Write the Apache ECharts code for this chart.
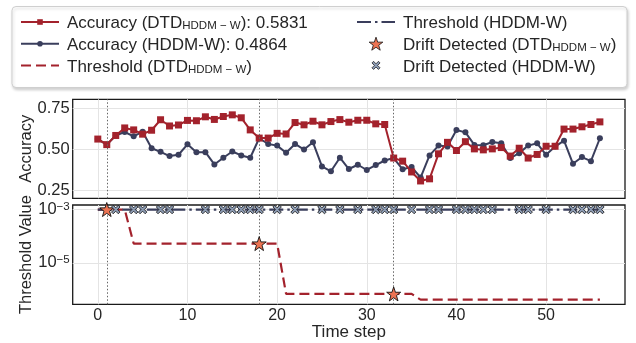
<!DOCTYPE html>
<html><head><meta charset="utf-8">
<script src="https://cdn.jsdelivr.net/npm/echarts@6/dist/echarts.min.js"></script>
<style>html,body{margin:0;padding:0;background:#fff}#c{width:636px;height:343px}</style>
</head><body><div id="c"></div>
<script>
// ---- data ----
const steps = [0,1,2,3,4,5,6,7,8,9,10,11,12,13,14,15,16,17,18,19,20,21,22,23,24,25,26,27,28,29,30,31,32,33,34,35,36,37,38,39,40,41,42,43,44,45,46,47,48,49,50,51,52,53,54,55,56];
const accDTD = [0.562,0.528,0.584,0.630,0.618,0.592,0.616,0.680,0.642,0.648,0.676,0.674,0.698,0.682,0.700,0.710,0.692,0.618,0.568,0.568,
  0.597,0.593,0.663,0.649,0.671,0.649,0.669,0.681,0.665,0.677,0.677,0.655,0.651,0.446,0.427,0.361,0.306,0.319,0.472,
  0.542,0.492,0.546,0.502,0.496,0.502,0.510,0.458,0.506,0.446,0.468,0.518,0.518,0.623,0.623,0.637,0.651,0.667];
const accHDDM = [0.562,0.528,0.584,0.605,0.579,0.607,0.506,0.484,0.458,0.466,0.530,0.482,0.482,0.407,0.448,0.486,0.462,0.448,0.567,0.532,
  0.522,0.478,0.532,0.498,0.542,0.395,0.365,0.448,0.379,0.405,0.373,0.403,0.431,0.446,0.377,0.391,0.327,0.462,0.522,
  0.516,0.617,0.603,0.526,0.524,0.544,0.536,0.446,0.476,0.522,0.536,0.466,0.516,0.552,0.411,0.452,0.427,0.567];
const thrDTD = [1e-3,1e-3,1e-3,1e-3,5.3e-5,5.3e-5,5.3e-5,5.3e-5,5.3e-5,5.3e-5,5.3e-5,5.3e-5,5.3e-5,5.3e-5,5.3e-5,5.3e-5,5.3e-5,5.3e-5,5.3e-5,5.3e-5,5.3e-5,
  6.9e-7,6.9e-7,6.9e-7,6.9e-7,6.9e-7,6.9e-7,6.9e-7,6.9e-7,6.9e-7,6.9e-7,6.9e-7,6.9e-7,6.9e-7,6.9e-7,6.9e-7,
  4.2e-7,4.2e-7,4.2e-7,4.2e-7,4.2e-7,4.2e-7,4.2e-7,4.2e-7,4.2e-7,4.2e-7,4.2e-7,4.2e-7,4.2e-7,4.2e-7,4.2e-7,4.2e-7,4.2e-7,4.2e-7,4.2e-7,4.2e-7,4.2e-7];
const thrHDDM = [1e-3,1e-3,1e-3,1e-3,1e-3,1e-3,1e-3,1e-3,1e-3,1e-3,1e-3,1e-3,1e-3,1e-3,1e-3,1e-3,1e-3,1e-3,1e-3,1e-3,
  1e-3,1e-3,1e-3,1e-3,1e-3,1e-3,1e-3,1e-3,1e-3,1e-3,1e-3,1e-3,1e-3,1e-3,1e-3,1e-3,1e-3,1e-3,1e-3,1e-3,
  1e-3,1e-3,1e-3,1e-3,1e-3,1e-3,1e-3,1e-3,1e-3,1e-3,1e-3,1e-3,1e-3,1e-3,1e-3,1e-3,1e-3];
const driftDTD = [1, 18, 33];
const driftHDDM = [2,4,5,7,8,12,14,15,16,17,18,20,22,25,27,29,31,32,33,35,37,38,40,41,42,43,44,47,48,50,53,54,55,56];
const xTicks = [0,10,20,30,40,50];
const accTicks = [0.25,0.5,0.75];
const thrTicks = [1e-5,1e-3];
const meanDTD = '0.5831', meanHDDM = '0.4864';

// ---- styling ----
const RED = '#a3222c', NAVY = '#3a3e5c', STAR = '#ec7352', XFILL = '#8c9bb3';
const TXT = '#262626', GRIDC = '#e4e4e4', FONT = 'Liberation Sans';
const STAR_PATH = 'path://M5,0 L6.18,3.45 L9.76,3.45 L6.9,5.6 L7.94,9.05 L5,7 L2.06,9.05 L3.1,5.6 L0.24,3.45 L3.82,3.45 Z';
const X_PATH = 'path://M2,0 L5,3 L8,0 L10,2 L7,5 L10,8 L8,10 L5,7 L2,10 L0,8 L3,5 L0,2 Z';
// same X shape with an empty margin, so the legend icon is drawn smaller
const X_ICON = 'path://M-3,-3 L-3,-3 M13,13 L13,13 M2,0 L5,3 L8,0 L10,2 L7,5 L10,8 L8,10 L5,7 L2,10 L0,8 L3,5 L0,2 Z';

const names = {
  a1: '{a|Accuracy (DTD}{s|HDDM − W}{a|): ' + meanDTD + '}',
  a2: '{a|Accuracy (HDDM-W): ' + meanHDDM + '}',
  t1: '{a|Threshold (DTD}{s|HDDM − W}{a|)}',
  t2: '{a|Threshold (HDDM-W)}',
  d1: '{a|Drift Detected (DTD}{s|HDDM − W}{a|)}',
  d2: '{a|Drift Detected (HDDM-W)}'
};
const rich = {
  a: {fontSize: 17, lineHeight: 20, verticalAlign: 'bottom', color: TXT, fontFamily: FONT},
  s: {fontSize: 11.5, lineHeight: 8, verticalAlign: 'bottom', color: TXT, fontFamily: FONT}
};
const noSym = {color: 'rgba(0,0,0,0)', borderColor: 'rgba(0,0,0,0)', borderWidth: 0};
const legendBase = {
  orient: 'vertical', itemWidth: 38, itemGap: 4.7, z: 10, top: 10,
  formatter: n => names[n],
  textStyle: {fontSize: 17, color: TXT, fontFamily: FONT, padding: [0,0,0,3], rich: rich}
};

const xAxisBase = (gi, showLabels) => ({
  type: 'value', gridIndex: gi, min: -2.8, max: 58.8,
  axisLine: {show: false}, axisTick: {show: false, customValues: xTicks},
  axisLabel: {show: showLabels, customValues: xTicks, fontSize: 16, color: TXT, fontFamily: FONT, margin: 3},
  splitLine: {show: true, lineStyle: {color: GRIDC, width: 1}},
  name: showLabels ? 'Time step' : '', nameLocation: 'middle', nameGap: 19,
  nameTextStyle: {fontSize: 17, color: TXT, fontFamily: FONT}
});

const pts = arr => arr.map((v, i) => [steps[i], v]);
const vlines = {
  silent: true, symbol: 'none', label: {show: false},
  lineStyle: {color: '#666', type: [1.5, 2], width: 1},
  data: driftDTD.map(x => ({xAxis: x}))
};

const option = {
  animation: false,
  backgroundColor: '#fff',
  graphic: [{
    type: 'rect', left: 11.5, top: 6, z: 0,
    shape: {width: 615, height: 81, r: 4},
    style: {fill: '#fff', stroke: '#cfcfcf', lineWidth: 1, shadowBlur: 3, shadowOffsetX: 1, shadowOffsetY: 2, shadowColor: 'rgba(0,0,0,0.18)'}
  }],
  legend: [
    Object.assign({}, legendBase, {left: 15, itemHeight: 7,
      data: ['a1', 'a2', {name: 't1', itemStyle: noSym}]}),
    Object.assign({}, legendBase, {left: 351, itemHeight: 13,
      data: [{name: 't2', itemStyle: noSym},
             {name: 'd1', itemStyle: {borderWidth: 0.8, borderColor: '#111'}},
             {name: 'd2', icon: X_ICON, itemStyle: {borderWidth: 0.7, borderColor: '#111'}}]})
  ],
  grid: [
    {left: 72.7, top: 99.3, width: 552.3, height: 99, show: true, borderColor: '#1a1a1a', borderWidth: 1.3, backgroundColor: 'transparent'},
    {left: 72.7, top: 205, width: 552.3, height: 99.3, show: true, borderColor: '#1a1a1a', borderWidth: 1.3, backgroundColor: 'transparent'}
  ],
  xAxis: [xAxisBase(0, false), xAxisBase(1, true)],
  yAxis: [
    {type: 'value', gridIndex: 0, min: 0.2, max: 0.805,
     axisLine: {show: false}, axisTick: {show: false, customValues: accTicks},
     axisLabel: {customValues: accTicks, fontSize: 16.5, color: TXT, fontFamily: FONT, margin: 3, formatter: v => v.toFixed(2)},
     splitLine: {show: true, lineStyle: {color: GRIDC, width: 1}},
     name: 'Accuracy', nameLocation: 'middle', nameGap: 38, nameMoveOverlap: false,
     nameTextStyle: {fontSize: 16.5, color: TXT, fontFamily: FONT}},
    {type: 'log', logBase: 10, gridIndex: 1, min: Math.pow(10, -6.55), max: Math.pow(10, -2.83),
     axisLine: {show: false}, axisTick: {show: false, customValues: thrTicks},
     axisLabel: {customValues: thrTicks, color: TXT, fontFamily: FONT, margin: 3,
       formatter: v => '{b|10}{s|−' + Math.round(-Math.log10(v)) + '}',
       rich: {b: {fontSize: 16.5, lineHeight: 18, verticalAlign: 'top', color: TXT, fontFamily: FONT},
              s: {fontSize: 11.5, lineHeight: 11, verticalAlign: 'top', color: TXT, fontFamily: FONT}}},
     splitLine: {show: true, lineStyle: {color: GRIDC, width: 1}},
     name: 'Threshold Value', nameLocation: 'middle', nameGap: 38, nameMoveOverlap: false,
     nameTextStyle: {fontSize: 16.5, color: TXT, fontFamily: FONT}}
  ],
  series: [
    {name: 'a2', type: 'line', xAxisIndex: 0, yAxisIndex: 0, data: pts(accHDDM), z: 3,
     symbol: 'circle', symbolSize: 6, showAllSymbol: true,
     lineStyle: {color: NAVY, width: 2}, itemStyle: {color: NAVY}},
    {name: 'a1', type: 'line', xAxisIndex: 0, yAxisIndex: 0, data: pts(accDTD), z: 4,
     symbol: 'rect', symbolSize: 7, showAllSymbol: true,
     lineStyle: {color: RED, width: 2}, itemStyle: {color: RED},
     markLine: vlines},
    {name: 't1', type: 'line', xAxisIndex: 1, yAxisIndex: 1, data: pts(thrDTD), z: 3,
     symbol: 'none', lineStyle: {color: RED, width: 2.2, type: [10, 5]}, itemStyle: {color: RED},
     markLine: vlines},
    {name: 't2', type: 'line', xAxisIndex: 1, yAxisIndex: 1, data: pts(thrHDDM), z: 4,
     symbol: 'none', lineStyle: {color: NAVY, width: 2.2, type: [14, 4, 2.5, 4]}, itemStyle: {color: NAVY}},
    {name: 'd1', type: 'scatter', xAxisIndex: 1, yAxisIndex: 1, z: 5,
     data: driftDTD.map(s => [s, thrDTD[steps.indexOf(s)]]),
     symbol: STAR_PATH, symbolSize: 14,
     itemStyle: {color: STAR, borderColor: '#111', borderWidth: 0.9, opacity: 1}},
    {name: 'd2', type: 'scatter', xAxisIndex: 1, yAxisIndex: 1, z: 6,
     data: driftHDDM.map(s => [s, thrHDDM[steps.indexOf(s)]]),
     symbol: X_PATH, symbolSize: 8.5,
     itemStyle: {color: XFILL, borderColor: '#111', borderWidth: 0.8, opacity: 1}}
  ]
};
echarts.init(document.getElementById('c'), null, {renderer: 'canvas'}).setOption(option);
</script></body></html>
